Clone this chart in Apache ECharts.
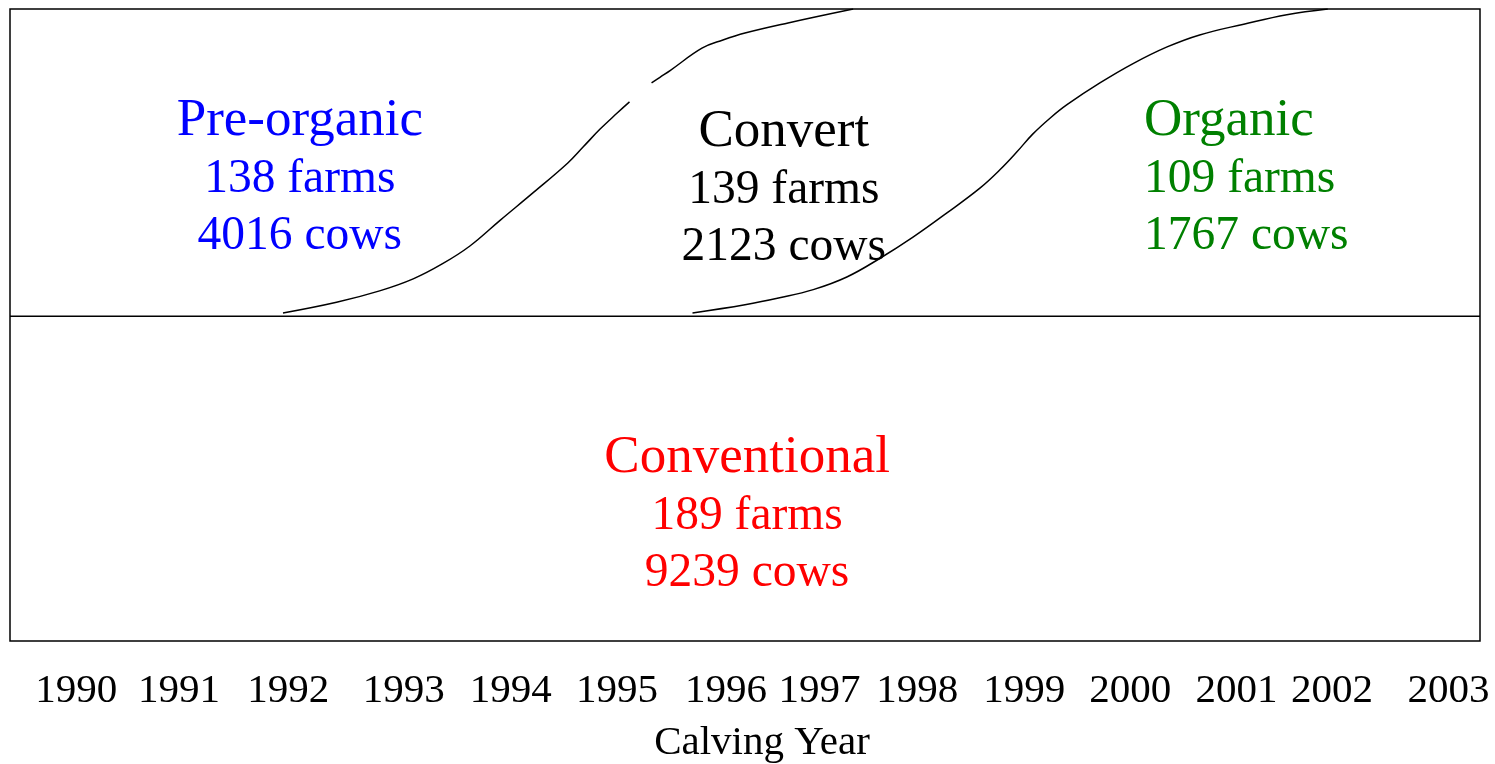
<!DOCTYPE html>
<html>
<head>
<meta charset="utf-8">
<script src="https://cdn.jsdelivr.net/npm/echarts@6/dist/echarts.min.js"></script>
<style>html,body{margin:0;padding:0;background:#fff}#c{width:1495px;height:764px}</style>
</head>
<body>
<div id="c"></div>
<script>
// Tick labels (calving years) and where they sit along the axis
var years = [1990,1991,1992,1993,1994,1995,1996,1997,1998,1999,2000,2001,2002,2003];
var yearLabelPos = [1990.13,1991.11,1992.15,1993.25,1994.27,1995.28,1996.32,1997.21,1998.14,1999.16,2000.17,2001.18,2002.09,2003.20];

// Group summaries
var groupNames = ['Pre-organic','Convert','Organic','Conventional'];
var groupFarms = [138,139,109,189];
var groupCows  = [4016,2123,1767,9239];
var groupColors = ['#0000ff','#000000','#008000','#ff0000'];
var groupAnchor = [[1992.26,0.732],[1996.87,0.715],[2000.30,0.732],[1996.52,0.199]];
var groupAlign = ['center','center','left','center'];

// Boundary between conventional (bottom) and the other groups (top)
var divider = [[1989.5,0.514],[2003.5,0.514]];

// Transition curves (x = calving year, y = share of panel height)
var curvePreToConvert = [
  [1992.10,0.519],[1992.61,0.536],[1993.02,0.554],[1993.34,0.573],[1993.62,0.597],
  [1993.88,0.625],[1994.17,0.666],[1994.48,0.709],[1994.81,0.756],[1994.96,0.782],
  [1995.12,0.810],[1995.28,0.835],[1995.40,0.853],null,
  [1995.61,0.883],[1995.69,0.892],[1995.79,0.903],[1996.09,0.938],[1996.29,0.951],
  [1996.50,0.962],[1996.91,0.978],[1997.53,1.0]
];
var curveConvertToOrganic = [
  [1996.00,0.519],[1996.50,0.532],[1996.83,0.543],[1997.15,0.556],[1997.47,0.576],
  [1997.79,0.606],[1998.10,0.639],[1998.42,0.677],[1998.74,0.717],[1998.93,0.746],
  [1999.09,0.774],[1999.24,0.802],[1999.41,0.828],[1999.57,0.849],[1999.88,0.883],
  [2000.20,0.914],[2000.52,0.940],[2000.83,0.959],[2001.25,0.976],[2001.66,0.991],
  [2002.05,1.0]
];

var FONT = "'Liberation Serif','Times New Roman',serif";

var labelData = groupNames.map(function(n,i){
  return {
    value: groupAnchor[i],
    itemStyle: {opacity: 1},
    label: {
      show: true,
      position: 'inside',
      align: groupAlign[i],
      verticalAlign: 'middle',
      opacity: 1,
      formatter: '{h|' + n + '}\n{t|' + groupFarms[i] + ' farms}\n{t|' + groupCows[i] + ' cows}',
      rich: {
        h: {fontSize: 53, lineHeight: 60, color: groupColors[i], fontFamily: FONT, align: groupAlign[i]},
        t: {fontSize: 47.5, lineHeight: 57, color: groupColors[i], fontFamily: FONT, align: groupAlign[i]}
      }
    }
  };
});

var chart = echarts.init(document.getElementById('c'), null, {renderer:'canvas'});
chart.setOption({
  animation: false,
  backgroundColor: '#fff',
  grid: {left: 10, right: 15, top: 9, bottom: 123, outerBoundsMode: 'none', containLabel: false, show: true, borderColor: '#000', borderWidth: 1.5, backgroundColor: 'transparent'},
  xAxis: {
    type: 'value', min: 1989.5, max: 2003.5,
    axisLine: {show: false}, axisTick: {show: false}, splitLine: {show: false},
    axisLabel: {
      customValues: yearLabelPos,
      margin: 30,
      fontSize: 41, color: '#000', fontFamily: FONT,
      formatter: function(v){
        for (var i=0;i<yearLabelPos.length;i++){ if (Math.abs(yearLabelPos[i]-v) < 1e-6) return String(years[i]); }
        return String(Math.floor(v));
      }
    },
    name: 'Calving Year', nameLocation: 'middle', nameGap: 82,
    nameTextStyle: {fontSize: 41, color: '#000', fontFamily: FONT, padding: [0,0,0,34]}
  },
  yAxis: {type: 'value', min: 0, max: 1, show: false},
  series: [
    {type: 'line', data: divider, symbol: 'none', lineStyle: {color: '#000', width: 1.5}, silent: true},
    {type: 'line', data: curvePreToConvert, symbol: 'none', smooth: 0.4, connectNulls: false, lineStyle: {color: '#000', width: 1.5}, silent: true},
    {type: 'line', data: curveConvertToOrganic, symbol: 'none', smooth: 0.4, lineStyle: {color: '#000', width: 1.5}, silent: true},
    {type: 'scatter', data: labelData, symbolSize: 0, silent: true, z: 5}
  ]
});
</script>
</body>
</html>
